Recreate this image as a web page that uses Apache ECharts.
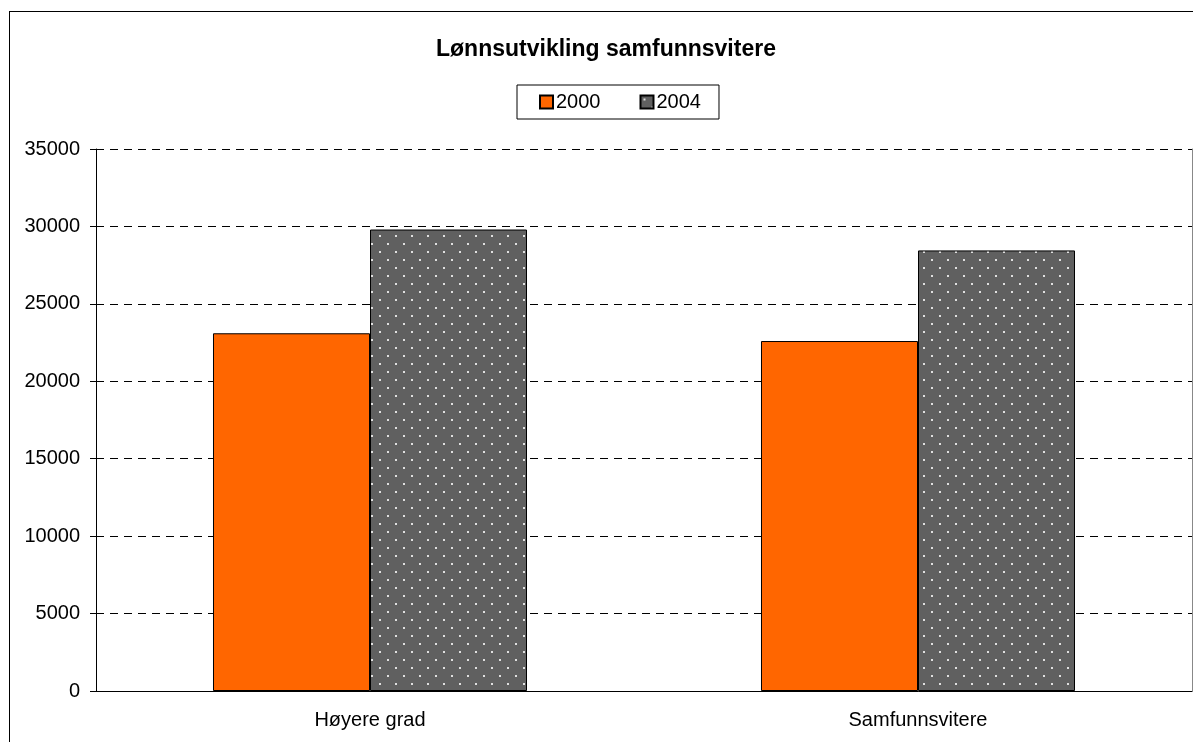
<!DOCTYPE html>
<html lang="no">
<head>
  <meta charset="UTF-8">
  <title>Lønnsutvikling samfunnsvitere</title>
  <script src="https://cdn.jsdelivr.net/npm/echarts@6/dist/echarts.min.js"></script>
  <style>
    html, body {
      margin: 0;
      padding: 0;
      background: #ffffff;
      overflow: hidden;
    }
    #frame {
      position: absolute;
      left: 9px;
      top: 11px;
      width: 1300px;
      height: 800px;
      border-left: 1px solid #000;
      border-top: 1px solid #000;
    }
    #chart {
      position: absolute;
      left: 0;
      top: 0;
      width: 1193px;
      height: 742px;
    }
  </style>
</head>
<body>
  <div id="frame"></div>
  <div id="chart"></div>

  <script>
    // data
    var categories = ['Høyere grad', 'Samfunnsvitere'];
    var seriesNames = ['2000', '2004'];
    var values2000 = [23100, 22600];
    var values2004 = [29800, 28450];

    var font = 'Liberation Sans, Arial, sans-serif';

    // dotted fill for the 2004 bars
    function dotPattern() {
      var c = document.createElement('canvas');
      c.width = 16;
      c.height = 16;
      var ctx = c.getContext('2d');
      ctx.fillStyle = '#606060';
      ctx.fillRect(0, 0, 16, 16);
      ctx.fillStyle = '#e0e0e0';
      ctx.fillRect(3, 3, 2, 2);
      ctx.fillRect(11, 11, 2, 2);
      return { image: c, repeat: 'repeat' };
    }

    var chart = echarts.init(document.getElementById('chart'));

    var option = {
      animation: false,
      title: {
        text: 'Lønnsutvikling samfunnsvitere',
        left: 431,
        top: 33,
        padding: 5,
        textStyle: {
          fontFamily: font,
          fontSize: 23,
          fontWeight: 'bold',
          color: '#000'
        }
      },
      legend: {
        data: seriesNames,
        top: 85,
        left: 517,
        icon: 'rect',
        itemWidth: 13,
        itemHeight: 13,
        itemGap: 39,
        padding: [7, 18, 7, 22],
        borderColor: '#000',
        borderWidth: 1,
        textStyle: {
          fontFamily: font,
          fontSize: 20,
          color: '#000',
          padding: [0, 0, 0, -2]
        }
      },
      grid: {
        left: 96,
        right: 1,
        top: 149,
        bottom: 51
      },
      xAxis: {
        type: 'category',
        data: categories,
        axisLine: { lineStyle: { color: '#000', width: 1 } },
        axisTick: { length: 7, lineStyle: { color: '#000' } },
        axisLabel: {
          margin: 19,
          fontFamily: font,
          fontSize: 20,
          color: '#000'
        }
      },
      yAxis: [
        {
          type: 'value',
          min: 0,
          max: 35000,
          interval: 5000,
          axisLine: { show: true, lineStyle: { color: '#000' } },
          axisTick: { show: true, length: 6, lineStyle: { color: '#000' } },
          axisLabel: {
            margin: 16,
            fontFamily: font,
            fontSize: 20,
            color: '#000',
            formatter: function (v) { return String(v); }
          },
          splitLine: {
            show: true,
            lineStyle: { color: '#000', type: [8, 6], width: 1 }
          }
        },
        {
          type: 'value',
          position: 'right',
          min: 0,
          max: 35000,
          interval: 5000,
          axisLine: { show: true, lineStyle: { color: '#888' } },
          axisTick: { show: false },
          axisLabel: { show: false },
          splitLine: { show: false }
        }
      ],
      series: [
        {
          name: seriesNames[0],
          type: 'bar',
          data: values2000,
          barGap: '0%',
          barCategoryGap: '42.7%',
          itemStyle: {
            color: '#ff6600',
            borderColor: '#000',
            borderWidth: 1
          }
        },
        {
          name: seriesNames[1],
          type: 'bar',
          data: values2004,
          barGap: '0%',
          barCategoryGap: '42.7%',
          itemStyle: {
            color: dotPattern(),
            borderColor: '#000',
            borderWidth: 1
          }
        }
      ]
    };

    chart.setOption(option);

    window.addEventListener('resize', function () {
      chart.resize();
    });
  </script>
</body>
</html>
